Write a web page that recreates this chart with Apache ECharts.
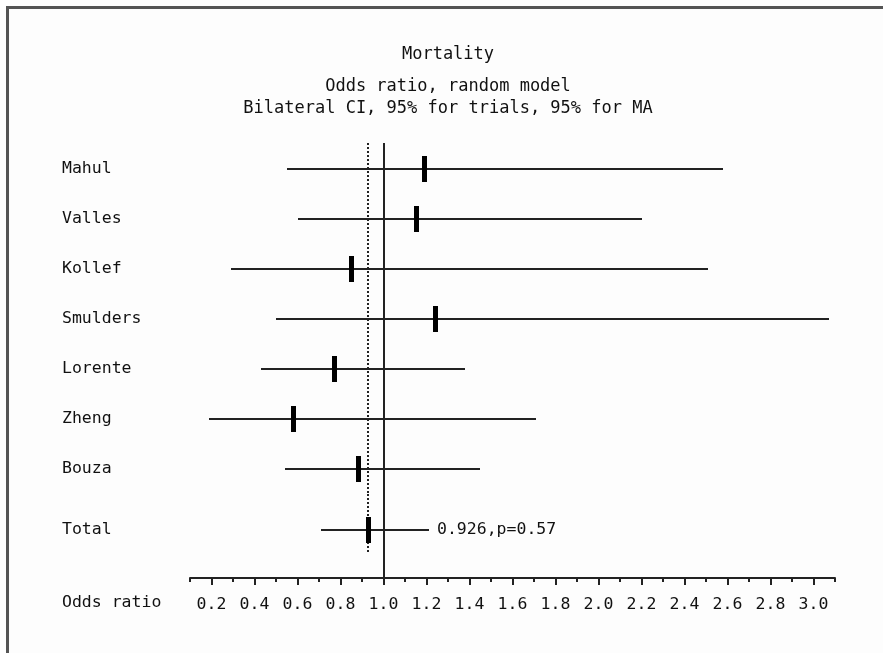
<!DOCTYPE html>
<html>
<head>
<meta charset="utf-8">
<script src="https://cdn.jsdelivr.net/npm/echarts@6/dist/echarts.min.js"></script>
<style>
  html, body { margin: 0; padding: 0; background: #ffffff; }
  #frame { position: absolute; left: 6px; top: 6px; width: 877px; height: 647px;
           border-top: 3px solid #555; border-left: 3px solid #555; background: #fdfdfd; box-sizing: border-box; }
  #chart { position: absolute; left: 0; top: 0; width: 883px; height: 653px; }
</style>
</head>
<body>
<div id="frame"></div>
<div id="chart"></div>
<script>
// ---- data ----
const trials = ['Mahul', 'Valles', 'Kollef', 'Smulders', 'Lorente', 'Zheng', 'Bouza'];
const oddsRatio = [1.19, 1.15, 0.85, 1.24, 0.77, 0.58, 0.88];
const ciLower = [0.55, 0.60, 0.29, 0.50, 0.43, 0.19, 0.54];
const ciUpper = [2.58, 2.20, 2.51, 3.07, 1.38, 1.71, 1.45];
const totalLabel = 'Total';
const totalOR = 0.926;
const totalLower = 0.71;
const totalUpper = 1.21;
const totalP = 0.57;
const majorTicks = ['0.2','0.4','0.6','0.8','1.0','1.2','1.4','1.6','1.8','2.0','2.2','2.4','2.6','2.8','3.0'];
const minorTicks = ['0.1','0.3','0.5','0.7','0.9','1.1','1.3','1.5','1.7','1.9','2.1','2.3','2.5','2.7','2.9','3.1'];
const axisMin = 0.1, axisMax = 3.1;
const refLine = 1.0;

const FONT = 'DejaVu Sans Mono';
const TXT = '#111';
const INK = '#222';

const trialData = trials.map((n, i) => [ciLower[i], ciUpper[i], oddsRatio[i], i]);
const totalData = [[totalLower, totalUpper, totalOR, 0]];
const refData = [[refLine, 0, 0], [totalOR, 0, 1]];

const px = v => Math.round(v);

function drawCI(params, api, isTotal) {
  const cat = api.value(3);
  const p0 = api.coord([api.value(0), cat]);
  const p1 = api.coord([api.value(1), cat]);
  const pm = api.coord([api.value(2), cat]);
  const cy = px(p0[1]);
  const children = [];
  if (isTotal) {
    children.push({ type: 'line', shape: { x1: px(pm[0]), y1: cy - 36, x2: px(pm[0]), y2: cy + 22 },
      style: { stroke: INK, lineWidth: 2, lineDash: [2, 2] } });
  }
  children.push(
    { type: 'line', shape: { x1: px(p0[0]), y1: cy, x2: px(p1[0]), y2: cy },
      style: { stroke: INK, lineWidth: 2 } },
    { type: 'rect', shape: { x: px(pm[0]) - 2, y: cy - 13, width: 5, height: 26 },
      style: { fill: '#000' } }
  );
  if (isTotal) {
    children.push({ type: 'text', style: { text: totalOR + ',p=' + totalP, x: px(p1[0]) + 8, y: cy,
      verticalAlign: 'middle', align: 'left', font: '16.5px "' + FONT + '"', fill: TXT } });
  }
  return { type: 'group', children };
}

function drawRef(params, api) {
  const cs = params.coordSys;
  const p = api.coord([api.value(0), api.value(1)]);
  const dotted = api.value(2) === 1;
  return { type: 'line', shape: { x1: px(p[0]), y1: cs.y - 1, x2: px(p[0]), y2: cs.y + cs.height },
    style: { stroke: INK, lineWidth: 2, lineDash: dotted ? [2, 2] : null } };
}

function drawRefTotal(params, api) {
  const cs = params.coordSys;
  const p = api.coord([api.value(0), api.value(1)]);
  return { type: 'line', shape: { x1: px(p[0]), y1: px(p[1]) - 36, x2: px(p[0]), y2: cs.y + cs.height },
    style: { stroke: INK, lineWidth: 2 } };
}

const chart = echarts.init(document.getElementById('chart'), null, { renderer: 'canvas' });
const labelStyle = { fontFamily: FONT, fontSize: 16.5, color: TXT };

chart.setOption({
  backgroundColor: 'transparent',
  animation: false,
  title: [
    { text: 'Mortality', left: 448, top: 45, textAlign: 'center', padding: 0,
      textStyle: { fontFamily: FONT, fontSize: 17, fontWeight: 'normal', color: TXT, lineHeight: 20 } },
    { text: 'Odds ratio, random model\nBilateral CI, 95% for trials, 95% for MA', left: 448, top: 76, textAlign: 'center', padding: 0,
      textStyle: { fontFamily: FONT, fontSize: 17, fontWeight: 'normal', color: TXT, lineHeight: 22, align: 'center' } },
    { text: 'Odds ratio', left: 62, top: 593, padding: 0,
      textStyle: { fontFamily: FONT, fontSize: 16.5, fontWeight: 'normal', color: TXT, lineHeight: 20 } }
  ],
  grid: [
    { left: 190, right: 48, top: 144, height: 350 },
    { left: 190, right: 48, top: 482, height: 96 }
  ],
  xAxis: [
    { gridIndex: 0, type: 'value', min: axisMin, max: axisMax, show: false },
    { gridIndex: 1, type: 'value', min: axisMin, max: axisMax, position: 'bottom',
      splitLine: { show: false },
      axisLine: { show: true, lineStyle: { color: INK, width: 2 } },
      axisTick: { show: true, length: 7, lineStyle: { color: INK, width: 2 }, customValues: majorTicks.map(Number) },
      axisLabel: { show: true, margin: 18, customValues: majorTicks.map(Number),
        formatter: v => majorTicks.find(t => Math.abs(Number(t) - v) < 1e-6) || '', ...labelStyle } },
    { gridIndex: 1, type: 'value', min: axisMin, max: axisMax, position: 'bottom',
      splitLine: { show: false },
      axisLine: { show: false },
      axisTick: { show: true, length: 4, lineStyle: { color: INK, width: 2 }, customValues: minorTicks.map(Number) },
      axisLabel: { show: false } }
  ],
  yAxis: [
    { gridIndex: 0, type: 'category', data: trials, inverse: true,
      axisLine: { show: false }, axisTick: { show: false }, splitLine: { show: false },
      axisLabel: { align: 'left', margin: 128, ...labelStyle } },
    { gridIndex: 1, type: 'category', data: [totalLabel], inverse: true,
      axisLine: { show: false }, axisTick: { show: false }, splitLine: { show: false },
      axisLabel: { align: 'left', margin: 128, ...labelStyle } }
  ],
  series: [
    { type: 'custom', xAxisIndex: 0, yAxisIndex: 0, data: refData, silent: true, clip: false,
      encode: { x: 0, y: 1 }, renderItem: drawRef, z: 1 },
    { type: 'custom', xAxisIndex: 1, yAxisIndex: 1, data: [[refLine, 0]], silent: true, clip: false,
      encode: { x: 0, y: 1 }, renderItem: drawRefTotal, z: 1 },
    { type: 'custom', xAxisIndex: 0, yAxisIndex: 0, data: trialData, z: 2,
      encode: { x: [0, 1, 2], y: 3 },
      renderItem: (p, api) => drawCI(p, api, false) },
    { type: 'custom', xAxisIndex: 1, yAxisIndex: 1, data: totalData, z: 2,
      encode: { x: [0, 1, 2], y: 3 },
      renderItem: (p, api) => drawCI(p, api, true) }
  ]
});
</script>
</body>
</html>
